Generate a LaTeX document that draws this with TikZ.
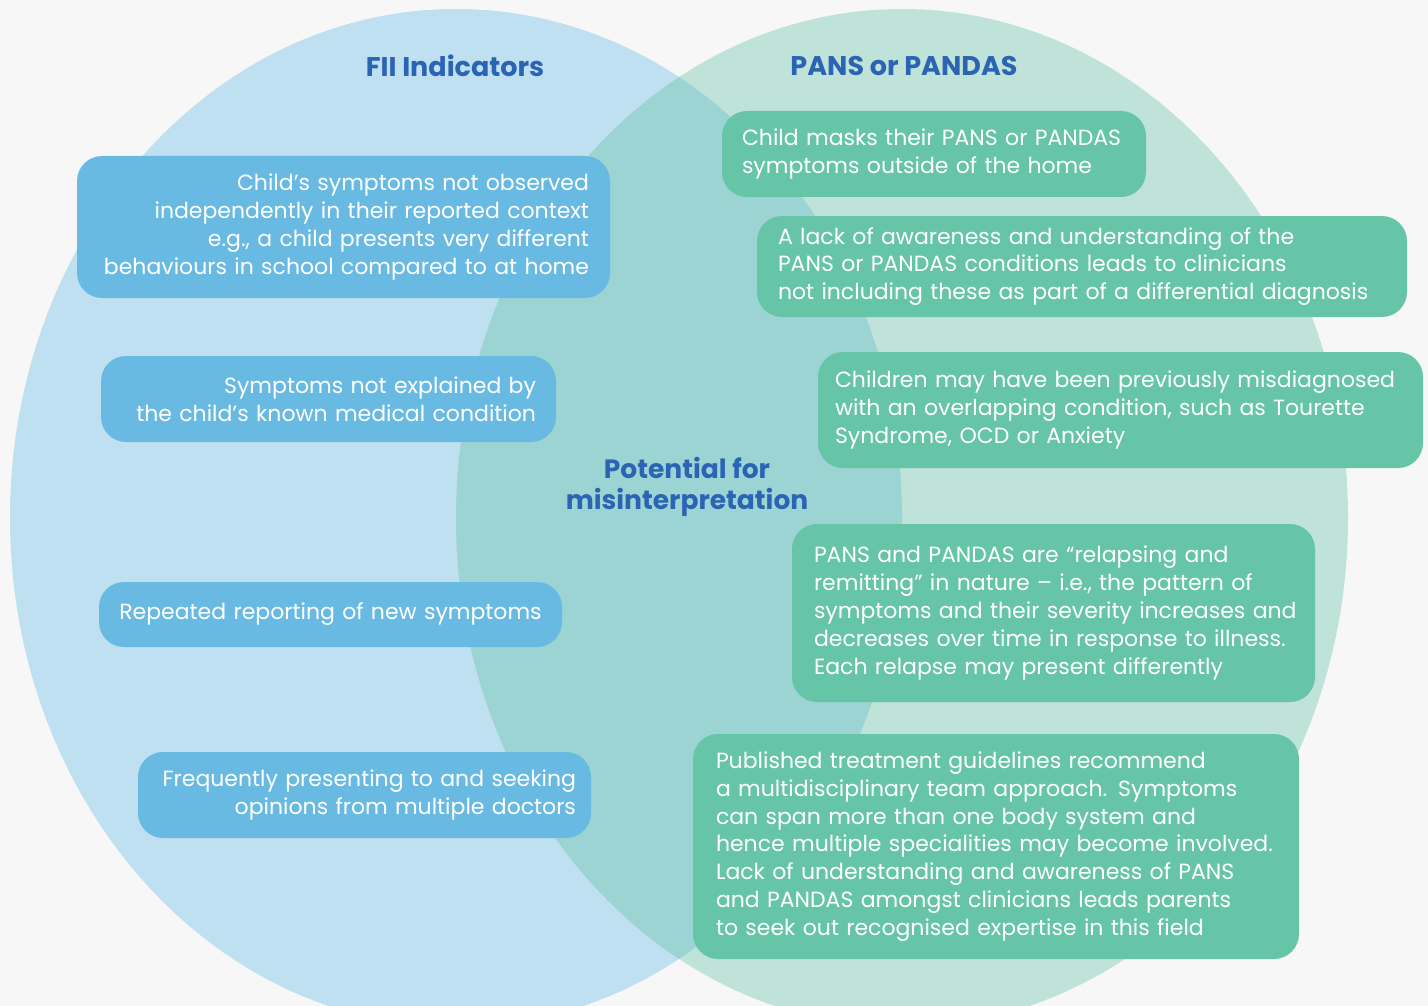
\documentclass[tikz,border=0pt]{standalone}
\usepackage{fontspec}
\setmainfont{Poppins}
\usepackage{tikz}
\usetikzlibrary{calc,positioning}

\definecolor{pagegrey}{RGB}{247,247,247}
\definecolor{fiiback}{RGB}{190,224,240}
\definecolor{pansback}{RGB}{191,227,216}
\definecolor{overlapback}{RGB}{155,212,211}
\definecolor{fiifill}{RGB}{105,186,227}
\definecolor{pansfill}{RGB}{102,196,167}
\definecolor{headblue}{RGB}{44,100,180}

\newcommand{\cardtext}{\fontsize{22}{27.8}\selectfont}
\newcommand{\headtext}{\fontsize{27}{31}\selectfont\bfseries}

\begin{document}
\begin{tikzpicture}[x=1pt,y=-1pt,
	card/.style={rounded corners=25pt, text=white, inner xsep=#1, inner ysep=0pt, font=\cardtext},
	fiicard/.style={card=#1, fill=fiifill, align=right},
	panscard/.style={card=#1, fill=pansfill, align=left},
	heading/.style={text=headblue, font=\headtext, align=center, inner sep=0pt}]
					\useasboundingbox[fill=pagegrey] (0,0) rectangle (1428,1006);
					\clip (0,0) rectangle (1428,1006);

					% the two sets
					\fill[fiiback] (456,518) ellipse [x radius=446, y radius=509];
					\fill[pansback] (902,518) ellipse [x radius=446, y radius=509];
					\begin{scope}
						\clip (456,518) ellipse [x radius=446, y radius=509];
						\fill[overlapback] (902,518) ellipse [x radius=446, y radius=509];
					\end{scope}

					% headings
					\node[heading] (fiihead) at (455,66) {FII Indicators};
					\node[heading] (panshead) at (904,66) {PANS or PANDAS};
					\node[heading, font=\fontsize{26.5}{31}\selectfont\bfseries] (overlaphead) at (687,487) {Potential for\\ misinterpretation};

					% FII indicators
					\node[fiicard=21pt, text width=491pt, minimum height=142pt] (notobserved) at (343.5,227) {Child’s symptoms not observed\\ independently in their reported context\\ e.g., a child presents very different\\ behaviours in school compared to at home};
					\node[fiicard=20pt, text width=415pt, minimum height=86pt] (notexplained) at (328.5,399) {Symptoms not explained by\\ the child’s known medical condition};
					\node[fiicard=10pt, text width=443pt, minimum height=65pt, align=center] (newsymptoms) at (330.5,614.5) {Repeated reporting of new symptoms};
					\node[fiicard=15pt, text width=423pt, minimum height=86pt] (doctors) at (364.5,795) {Frequently presenting to and seeking\\ opinions from multiple doctors};

					% PANS or PANDAS
					\node[panscard=20pt, text width=384pt, minimum height=86pt] (masks) at (934,154) {Child masks their PANS or PANDAS\\ symptoms outside of the home};
					\node[panscard=21pt, text width=608pt, minimum height=101pt] (awareness) at (1082,266.5) {A lack of awareness and understanding of the\\ PANS or PANDAS conditions leads to clinicians\\ not including these as part of a differential diagnosis};
					\node[panscard=17pt, text width=571pt, minimum height=116pt] (misdiagnosed) at (1120.5,410) {Children may have been previously misdiagnosed\\ with an overlapping condition, such as Tourette\\ Syndrome, OCD or Anxiety};
					\node[panscard=22pt, text width=479pt, minimum height=178pt] (relapsing) at (1053.5,613) {PANS and PANDAS are “relapsing and\\ remitting” in nature – i.e., the pattern of\\ \mbox{symptoms and their severity increases and}\\ decreases over time in response to illness.\\ Each relapse may present differently};
					\node[panscard=23pt, text width=560pt, minimum height=225pt] (guidelines) at (996,846.5) {Published treatment guidelines recommend\\ a multidisciplinary team approach. Symptoms\\ can span more than one body system and\\ hence multiple specialities may become involved.\\ Lack of understanding and awareness of PANS\\ and PANDAS amongst clinicians leads parents\\ to seek out recognised expertise in this field};
				\end{tikzpicture}
\end{document}
